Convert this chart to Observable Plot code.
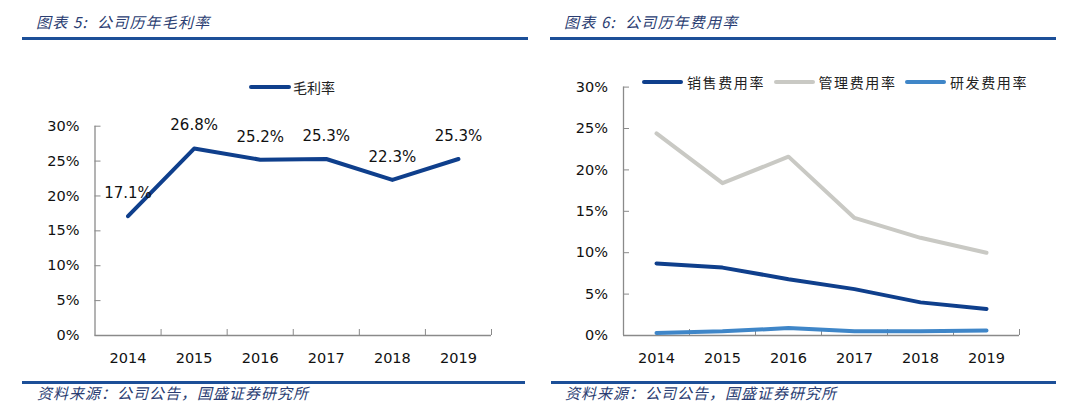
<!DOCTYPE html>
<html><head><meta charset="utf-8">
<script src="https://cdn.jsdelivr.net/npm/d3@7"></script>
<script src="https://cdn.jsdelivr.net/npm/@observablehq/plot@0.6"></script>
<style>
body{margin:0;background:#fff;}
#page{position:relative;width:1080px;height:410px;overflow:hidden;background:#fff;font-family:"DejaVu Sans",sans-serif;}
.title,.src{position:absolute;font-family:"Noto Sans CJK SC",sans-serif;font-style:italic;color:#2a3d72;white-space:pre;height:22px;line-height:22px;}
.title{top:11px;font-size:15px;letter-spacing:1.2px;}
.src{top:382px;font-size:15px;letter-spacing:1px;}
.rule{position:absolute;height:3px;background:#1c4f98;}
.chart{position:absolute;top:60px;}
.legend{position:absolute;height:20px;line-height:20px;font-family:"Noto Sans CJK SC",sans-serif;font-size:14px;color:#222;white-space:nowrap;}
.sw{position:absolute;top:8px;height:4px;border-radius:2px;}
.lab{position:absolute;top:0;}
</style>
</head><body>
<div id="page">
  <div class="title" style="left:36px">图表 5:  公司历年毛利率</div>
  <div class="rule" style="left:22px;width:506px;top:37px"></div>
  <div class="title" style="left:564px">图表 6:  公司历年费用率</div>
  <div class="rule" style="left:550px;width:506px;top:37px"></div>
  <div id="left" class="chart" style="left:0px"></div>
  <div id="right" class="chart" style="left:540px"></div>
  <div id="legL" class="legend" style="left:249px;top:77px"></div>
  <div id="legR" class="legend" style="left:642px;top:72px"></div>
  <div class="rule" style="left:22px;width:503px;top:381px"></div>
  <div class="src" style="left:37px">资料来源：公司公告，国盛证券研究所</div>
  <div class="rule" style="left:551px;width:505px;top:381px"></div>
  <div class="src" style="left:565px">资料来源：公司公告，国盛证券研究所</div>
</div>
<script>
const years = ["2014","2015","2016","2017","2018","2019"];
const grossMargin = [17.1, 26.8, 25.2, 25.3, 22.3, 25.3];
const salesRate = [8.7, 8.2, 6.8, 5.6, 4.0, 3.2];
const adminRate = [24.4, 18.4, 21.6, 14.2, 11.8, 10.0];
const rdRate = [0.3, 0.5, 0.9, 0.5, 0.5, 0.6];
const yTicks = [0, 5, 10, 15, 20, 25, 30];
const leftName = "毛利率";
const leftColor = "#0f3f8c";
const seriesNames = ["销售费用率", "管理费用率", "研发费用率"];
const seriesColors = ["#0f3f8c", "#c9c9c4", "#3f86c8"];
const seriesValues = [salesRate, adminRate, rdRate];

const axisColor = "#8a8a8a";
const pct = d => d + "%";
const bounds = years.map((y, i) => i + 1);
const centers = years.map((y, i) => i + 0.5);

function baseMarks() {
  return [
    Plot.axisY(yTicks, {label: null, tickSize: -6, tickPadding: 21.5, tickFormat: pct, stroke: axisColor, fill: "#111", fontSize: 14.5}),
    Plot.axisX(bounds, {label: null, tickSize: -6, tickFormat: () => "", stroke: axisColor}),
    Plot.axisX(centers, {label: null, tickSize: 0, tickPadding: 17, tickFormat: d => years[Math.round(d - 0.5)], fill: "#111", fontSize: 14.5}),
    Plot.ruleX([0], {stroke: axisColor, strokeWidth: 1.3}),
    Plot.ruleY([0], {stroke: axisColor, strokeWidth: 1.3})
  ];
}

const leftData = years.map((y, i) => ({x: i + 0.5, year: y, v: grossMargin[i]}));
const leftPlot = Plot.plot({
  width: 540, height: 310,
  marginLeft: 94.5, marginRight: 49, marginTop: 65.7, marginBottom: 35,
  x: {domain: [0, 6], axis: null},
  y: {domain: [0, 30], axis: null},
  style: {fontFamily: "DejaVu Sans, sans-serif", fontSize: "14.5px", color: "#111", background: "transparent", overflow: "visible"},
  marks: [
    ...baseMarks(),
    Plot.line(leftData, {x: "x", y: "v", stroke: leftColor, strokeWidth: 4, strokeLinejoin: "round", strokeLinecap: "round"}),
    Plot.text(leftData, {x: "x", y: "v", text: d => d.v.toFixed(1) + "%", dy: -23, fontSize: 15, fill: "#111"})
  ]
});
document.getElementById("left").appendChild(leftPlot);

const rightData = [];
seriesNames.forEach((name, s) => {
  years.forEach((y, i) => rightData.push({x: i + 0.5, year: y, v: seriesValues[s][i], series: name}));
});
const rightPlot = Plot.plot({
  width: 540, height: 310,
  marginLeft: 83, marginRight: 61, marginTop: 26.6, marginBottom: 35,
  x: {domain: [0, 6], axis: null},
  y: {domain: [0, 30], axis: null},
  color: {domain: seriesNames, range: seriesColors},
  style: {fontFamily: "DejaVu Sans, sans-serif", fontSize: "14.5px", color: "#111", background: "transparent", overflow: "visible"},
  marks: [
    ...baseMarks(),
    Plot.line(rightData, {x: "x", y: "v", z: "series", stroke: "series", strokeWidth: 4, strokeLinejoin: "round", strokeLinecap: "round"})
  ]
});
document.getElementById("right").appendChild(rightPlot);

function addItem(container, left, swW, textLeft, color, name, spacing) {
  const sw = document.createElement("div");
  sw.className = "sw"; sw.style.left = left + "px"; sw.style.width = swW + "px"; sw.style.background = color;
  const lab = document.createElement("div");
  lab.className = "lab"; lab.style.left = textLeft + "px"; lab.style.letterSpacing = spacing + "px";
  lab.textContent = name;
  container.appendChild(sw); container.appendChild(lab);
}
const legL = document.getElementById("legL");
addItem(legL, 0, 42, 44, leftColor, leftName, 0);
const legR = document.getElementById("legR");
const itemOffsets = [0, 131.5, 263];
seriesNames.forEach((n, i) => addItem(legR, itemOffsets[i], 41, itemOffsets[i] + 45, seriesColors[i], n, 1.6));
</script>
</body></html>
